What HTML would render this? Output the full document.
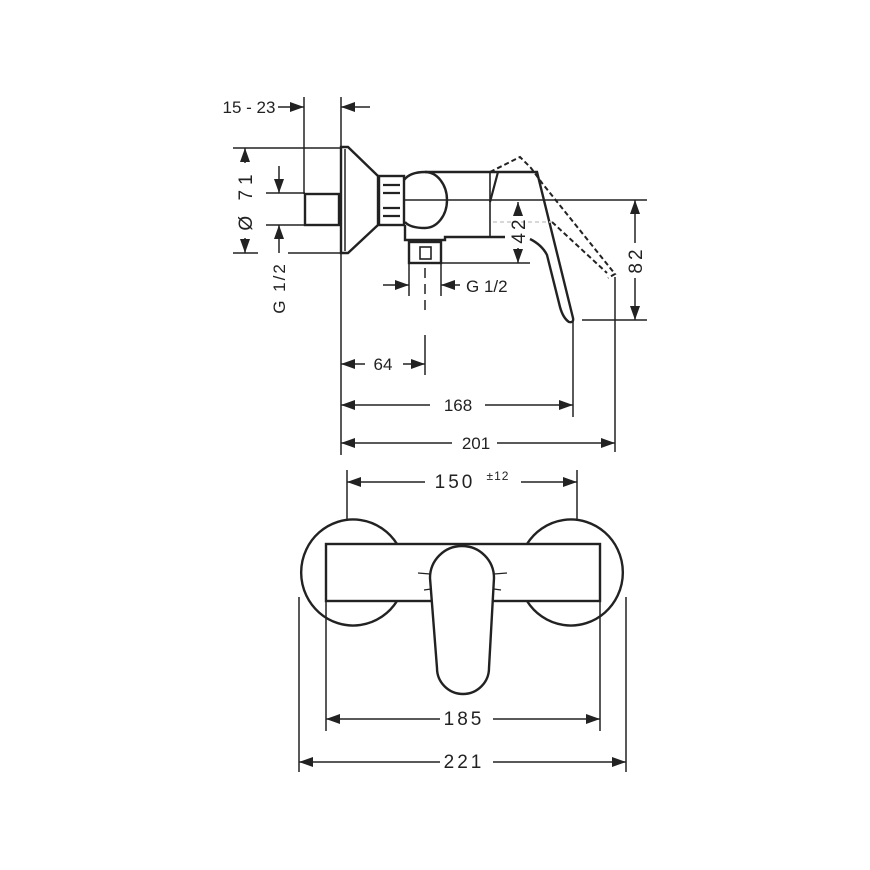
<!DOCTYPE html>
<html><head><meta charset="utf-8"><style>
html,body{margin:0;padding:0;background:#fff;}
svg{display:block;}
text{font-family:"Liberation Sans","DejaVu Sans",sans-serif;fill:#222;}
</style></head><body>
<svg width="870" height="870" viewBox="0 0 870 870" xmlns="http://www.w3.org/2000/svg">
<defs>
<marker id="a" viewBox="0 0 14 10" refX="14" refY="5" markerWidth="14" markerHeight="10" markerUnits="userSpaceOnUse" orient="auto"><path d="M0,0 L14,5 L0,10 z" fill="#222"/></marker>
</defs>
<g stroke="#222" fill="none" stroke-width="1.5">
<line x1="304" y1="97" x2="304" y2="194"/>
<line x1="341" y1="97" x2="341" y2="455"/>
<line x1="278" y1="107" x2="304" y2="107" marker-end="url(#a)"/>
<line x1="370" y1="107" x2="341" y2="107" marker-end="url(#a)"/>
<line x1="233" y1="148" x2="341" y2="148"/>
<line x1="233" y1="253" x2="258" y2="253"/>
<line x1="288" y1="253" x2="341" y2="253"/>
<line x1="245" y1="163" x2="245" y2="148" marker-end="url(#a)"/>
<line x1="245" y1="238" x2="245" y2="253" marker-end="url(#a)"/>
<line x1="266" y1="193" x2="305" y2="193"/>
<line x1="266" y1="225" x2="305" y2="225"/>
<line x1="279" y1="166" x2="279" y2="193" marker-end="url(#a)"/>
<line x1="279" y1="253" x2="279" y2="225" marker-end="url(#a)"/>
<rect x="305" y="194" width="34" height="31" stroke-width="2.4"/>
<path d="M341,147 H348 L378,176 V225 L348,253 H341 Z" stroke-width="2.4"/>
<line x1="345" y1="149" x2="345" y2="251"/>
<rect x="379" y="176" width="25" height="49" stroke-width="2.4"/>
<g stroke-width="2.2"><line x1="383" y1="185" x2="400" y2="185"/><line x1="383" y1="193" x2="400" y2="193"/><line x1="383" y1="208" x2="400" y2="208"/><line x1="383" y1="216" x2="400" y2="216"/></g>
<path d="M404,180 Q410,172 425,172 H490" stroke-width="2.4"/>
<path d="M425,172 A22,28 0 0 1 425,228 Q410,228 405,222" stroke-width="2.4"/>
<path d="M405,225 V240 H445 V237 H505" stroke-width="2.4"/>
<rect x="409" y="242" width="32" height="21" stroke-width="2.4"/>
<rect x="420" y="247" width="11" height="12" stroke-width="1.6"/>
<line x1="490" y1="172" x2="490" y2="237" stroke-width="1.6"/>
<line x1="404" y1="200" x2="647" y2="200"/>
<path d="M498,172 L490,202" stroke-width="2.2"/>
<path d="M490,172 H537 L573,318 Q574,323 569,322 Q563,318 560,307 L547,255 Q542,245 530,239" stroke-width="2.4"/>
<g stroke-dasharray="5,3" stroke-width="2">
<path d="M490,172 L520,157 L531,168 L542,183 L615,274 L608,278"/>
<path d="M552,222 L607,273"/>
</g>
<line x1="493" y1="222" x2="552" y2="222" stroke="#ccc" stroke-dasharray="4,3"/>
<line x1="442" y1="263" x2="530" y2="263"/>
<line x1="518" y1="216" x2="518" y2="202" marker-end="url(#a)"/>
<line x1="518" y1="248" x2="518" y2="263" marker-end="url(#a)"/>
<line x1="582" y1="320" x2="647" y2="320"/>
<line x1="635" y1="243" x2="635" y2="200" marker-end="url(#a)"/>
<line x1="635" y1="278" x2="635" y2="320" marker-end="url(#a)"/>
<line x1="409" y1="263" x2="409" y2="296"/>
<line x1="441" y1="263" x2="441" y2="296"/>
<line x1="383" y1="285" x2="409" y2="285" marker-end="url(#a)"/>
<line x1="460" y1="285" x2="441" y2="285" marker-end="url(#a)"/>
<line x1="425" y1="268" x2="425" y2="310" stroke-dasharray="10,6"/>
<line x1="425" y1="335" x2="425" y2="375"/>
<line x1="573" y1="320" x2="573" y2="417"/>
<line x1="615" y1="277" x2="615" y2="452"/>
<line x1="365" y1="364" x2="341" y2="364" marker-end="url(#a)"/>
<line x1="403" y1="364" x2="425" y2="364" marker-end="url(#a)"/>
<line x1="430" y1="405" x2="341" y2="405" marker-end="url(#a)"/>
<line x1="485" y1="405" x2="573" y2="405" marker-end="url(#a)"/>
<line x1="452" y1="443" x2="341" y2="443" marker-end="url(#a)"/>
<line x1="497" y1="443" x2="615" y2="443" marker-end="url(#a)"/>
<line x1="347" y1="470" x2="347" y2="520"/>
<line x1="577" y1="470" x2="577" y2="520"/>
<line x1="425" y1="482" x2="347" y2="482" marker-end="url(#a)"/>
<line x1="521" y1="482" x2="577" y2="482" marker-end="url(#a)"/>
<path d="M397,544 A52,53 0 1 0 397,601" stroke-width="2.4"/>
<path d="M527,544 A52,53 0 1 1 527,601" stroke-width="2.4"/>
<rect x="326" y="544" width="274" height="57" stroke-width="2.4" fill="#fff"/>
<path d="M430,578 A32,32 0 0 1 494,578 L489,668 A26,26 0 0 1 437,668 Z" stroke-width="2.4" fill="#fff"/>
<g stroke-width="1.2"><line x1="418" y1="573" x2="430" y2="574"/><line x1="424" y1="590" x2="431" y2="589"/><line x1="494" y1="574" x2="507" y2="573"/><line x1="494" y1="589" x2="501" y2="590"/></g>
<line x1="326" y1="601" x2="326" y2="731"/>
<line x1="600" y1="601" x2="600" y2="731"/>
<line x1="440" y1="719" x2="326" y2="719" marker-end="url(#a)"/>
<line x1="493" y1="719" x2="600" y2="719" marker-end="url(#a)"/>
<line x1="299" y1="597" x2="299" y2="772"/>
<line x1="626" y1="597" x2="626" y2="772"/>
<line x1="440" y1="762" x2="299" y2="762" marker-end="url(#a)"/>
<line x1="493" y1="762" x2="626" y2="762" marker-end="url(#a)"/>
</g>
<g font-size="17" text-anchor="middle">
<text x="249" y="113">15 - 23</text>
<text x="383" y="370">64</text>
<text x="458" y="411">168</text>
<text x="476" y="449">201</text>
<text x="466" y="292" text-anchor="start">G 1/2</text>
<text transform="translate(252,200) rotate(-90)" font-size="19" letter-spacing="5">Ø 71</text>
<text transform="translate(285,288) rotate(-90)" letter-spacing="2">G 1/2</text>
<text transform="translate(525,230) rotate(-90)" font-size="19" letter-spacing="3">42</text>
<text transform="translate(642,260) rotate(-90)" font-size="19" letter-spacing="3">82</text>
<text x="455" y="488" font-size="19" letter-spacing="3">150</text>
<text x="498" y="480" font-size="12" letter-spacing="1">±12</text>
<text x="464" y="725" font-size="19" letter-spacing="3">185</text>
<text x="464" y="768" font-size="19" letter-spacing="3">221</text>
</g>
</svg>
</body></html>
